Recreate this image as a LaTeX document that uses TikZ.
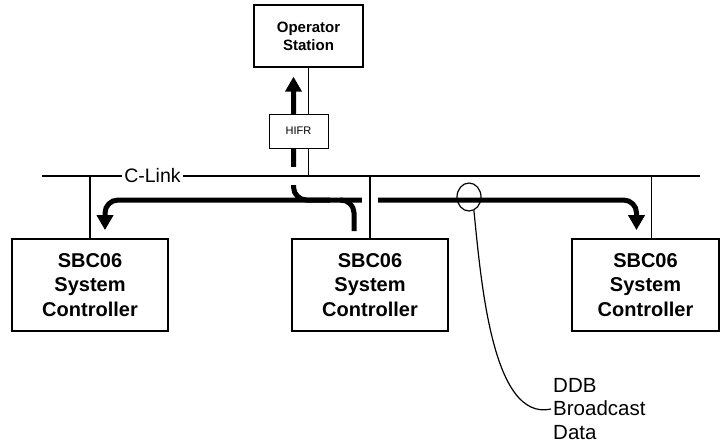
\documentclass[tikz,border=0pt]{standalone}
\usepackage{fontspec}
\setmainfont{Liberation Sans}
\usetikzlibrary{positioning, arrows.meta, shapes.geometric}
\pgfdeclarelayer{background}
\pgfsetlayers{background,main}

\begin{document}
\begin{tikzpicture}[x=1pt, y=-1pt, >={Triangle[length=15pt, width=16pt]},
  ctrl/.style={draw, line width=1.8pt, fill=white, minimum height=92pt, align=center,
    font=\bfseries\fontsize{20}{24.5}\selectfont},
  flow/.style={line width=5pt, rounded corners=13pt},
  bus/.style={line width=2.6pt},
  drop/.style={line width=1.5pt}]
\useasboundingbox (0,0) rectangle (722,444);
% boxes
\node (ops) [draw, line width=1.3pt, minimum width=109pt, minimum height=62pt, align=center,
  font=\bfseries\fontsize{15}{18}\selectfont] at (308.5,36) {Operator\\Station};
\node (hifr) [draw, fill=white, line width=1pt, minimum width=59pt, minimum height=34pt,
  font=\fontsize{11}{13}\selectfont] at (298.5,131) {HIFR};
\node (ctrlL) [ctrl, minimum width=156pt] at (90,285) {SBC06\\System\\Controller};
\node (ctrlM) [ctrl, minimum width=156pt] at (370,285) {SBC06\\System\\Controller};
\node (ctrlR) [ctrl, minimum width=147pt] at (645.5,285) {SBC06\\System\\Controller};
% C-Link bus
\coordinate (busW) at (42,176);
\coordinate (busE) at (700,176);
\node (clink) [inner sep=2.5pt, font=\fontsize{19.5}{21}\selectfont] at (152.5,176) {C-Link};
\draw[bus] (busW) -- (clink);
\draw[bus] (clink) -- (busE);
\draw[drop] (ops.south) -- (ops.south |- hifr.north);
\draw[drop] (ops.south |- hifr.south) -- (ops.south |- busW);
\draw[drop] (ctrlL.north) -- (ctrlL.north |- busW);
\draw[drop] (ctrlM.north) -- (ctrlM.north |- busW);
\draw[drop] ([xshift=6pt]ctrlR.north) -- ([xshift=6pt]ctrlR.north |- busW);
% data flow
\coordinate (src) at ([xshift=-16pt, yshift=7pt]ctrlM.north);
\begin{pgfonlayer}{background}
\draw[flow, ->] (src) |- ([xshift=15pt]ctrlL.north |- 0,200) -- ([xshift=15pt, yshift=8pt]ctrlL.north);
\draw[flow, ->] (330,200) -| ([xshift=-15pt, yshift=-9pt]ops.south);
\draw[flow, ->] ([xshift=-14pt]src |- 0,200) -| ([xshift=-9pt, yshift=8pt]ctrlR.north);
\fill[white] (285,167) rectangle (301,185);
\fill[white] (362,190) rectangle (378,210);
\end{pgfonlayer}
% DDB broadcast
\node (loop) [ellipse, draw, line width=1.2pt, minimum width=24pt, minimum height=28pt, inner sep=0pt] at (469,197) {};
\node (ddb) [anchor=west, align=left, inner sep=2pt, font=\fontsize{20.5}{23.5}\selectfont] at (551,409) {DDB\\Broadcast\\Data};
\draw[line width=1.2pt] (loop.-70) .. controls (481,280) and (492,422) .. (ddb.west);
\end{tikzpicture}
\end{document}
